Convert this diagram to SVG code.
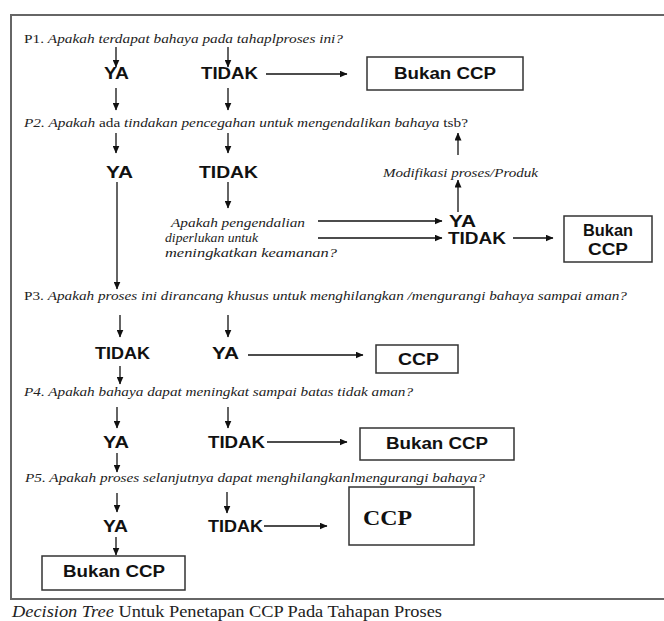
<svg xmlns="http://www.w3.org/2000/svg" width="664" height="621" viewBox="0 0 664 621">
  <defs>
    <marker id="head" markerUnits="userSpaceOnUse" markerWidth="8" markerHeight="7" refX="7.5" refY="3.5" orient="auto">
      <path d="M0,0 L8,3.5 L0,7 z" fill="#111"/>
    </marker>
    <style>
      .frame { fill: none; stroke: #666; stroke-width: 2; }
      .box { fill: #fff; stroke: #333; stroke-width: 1.5; }
      .q { font-family: "Liberation Serif", "Times New Roman", serif; font-size: 12.5px; fill: #222; }
      .it { font-style: italic; }
      .up { font-style: normal; }
      .lbl { font-family: "Liberation Sans", Arial, sans-serif; font-weight: bold; font-size: 16px; fill: #111; }
      .ccp-serif { font-family: "Liberation Serif", "Times New Roman", serif; font-weight: bold; font-size: 20px; fill: #111; }
      .cap { font-family: "Liberation Serif", "Times New Roman", serif; font-size: 16px; fill: #222; }
      .conn line { stroke: #111; stroke-width: 1.3; marker-end: url(#head); }
      .conn line.plain { marker-end: none; }
    </style>
  </defs>

  <rect width="664" height="621" fill="#fff"/>

  <!-- outer frame (open on the right) -->
  <path class="frame" d="M664 15 H11 V599 H664"/>

  <!-- question 1 -->
  <g id="q1">
    <text class="q" x="24" y="43" textLength="319" lengthAdjust="spacingAndGlyphs"><tspan class="up">P1. </tspan><tspan class="it">Apakah terdapat bahaya pada tahaplproses ini?</tspan></text>
  </g>
  <g id="q1-ya"><text class="lbl" x="104" y="79" textLength="25" lengthAdjust="spacingAndGlyphs">YA</text></g>
  <g id="q1-tidak"><text class="lbl" x="201" y="79" textLength="57" lengthAdjust="spacingAndGlyphs">TIDAK</text></g>
  <g id="q1-bukan">
    <rect class="box" x="367" y="57" width="156" height="33"/>
    <text class="lbl" x="394" y="79" textLength="102" lengthAdjust="spacingAndGlyphs">Bukan CCP</text>
  </g>

  <!-- question 2 -->
  <g id="q2">
    <text class="q" x="24" y="127" textLength="444" lengthAdjust="spacingAndGlyphs"><tspan class="it">P2. Apakah </tspan><tspan class="up">ada </tspan><tspan class="it">tindakan pencegahan untuk mengendalikan bahaya </tspan><tspan class="up">tsb?</tspan></text>
  </g>
  <g id="q2-ya"><text class="lbl" x="106" y="178" textLength="27" lengthAdjust="spacingAndGlyphs">YA</text></g>
  <g id="q2-tidak"><text class="lbl" x="199" y="178" textLength="59" lengthAdjust="spacingAndGlyphs">TIDAK</text></g>
  <g id="modifikasi">
    <text class="q it" x="383" y="177" textLength="155" lengthAdjust="spacingAndGlyphs">Modifikasi proses/Produk</text>
  </g>
  <g id="q2b">
    <text class="q it" x="171" y="227" textLength="134" lengthAdjust="spacingAndGlyphs">Apakah pengendalian</text>
    <text class="q it" x="165" y="242" textLength="93" lengthAdjust="spacingAndGlyphs">diperlukan untuk</text>
    <text class="q it" x="165" y="257" textLength="172" lengthAdjust="spacingAndGlyphs">meningkatkan keamanan?</text>
  </g>
  <g id="q2b-ya"><text class="lbl" x="449" y="227" textLength="27" lengthAdjust="spacingAndGlyphs">YA</text></g>
  <g id="q2b-tidak"><text class="lbl" x="448" y="244" textLength="58" lengthAdjust="spacingAndGlyphs">TIDAK</text></g>
  <g id="q2b-bukan">
    <rect class="box" x="564" y="216" width="88" height="46"/>
    <text class="lbl" x="608" y="236" text-anchor="middle" textLength="50" lengthAdjust="spacingAndGlyphs">Bukan</text>
    <text class="lbl" x="608" y="255" text-anchor="middle" textLength="40" lengthAdjust="spacingAndGlyphs">CCP</text>
  </g>

  <!-- question 3 -->
  <g id="q3">
    <text class="q" x="24" y="300" textLength="603" lengthAdjust="spacingAndGlyphs"><tspan class="up">P3. </tspan><tspan class="it">Apakah proses ini dirancang khusus untuk menghilangkan /mengurangi bahaya sampai aman?</tspan></text>
  </g>
  <g id="q3-tidak"><text class="lbl" x="95" y="359" textLength="55" lengthAdjust="spacingAndGlyphs">TIDAK</text></g>
  <g id="q3-ya"><text class="lbl" x="212" y="359" textLength="27" lengthAdjust="spacingAndGlyphs">YA</text></g>
  <g id="q3-ccp">
    <rect class="box" x="376" y="345" width="82" height="28"/>
    <text class="lbl" x="398" y="365" textLength="41" lengthAdjust="spacingAndGlyphs">CCP</text>
  </g>

  <!-- question 4 -->
  <g id="q4">
    <text class="q it" x="24" y="396" textLength="389" lengthAdjust="spacingAndGlyphs">P4. Apakah bahaya dapat meningkat sampai batas tidak aman?</text>
  </g>
  <g id="q4-ya"><text class="lbl" x="103" y="448" textLength="26" lengthAdjust="spacingAndGlyphs">YA</text></g>
  <g id="q4-tidak"><text class="lbl" x="208" y="448" textLength="57" lengthAdjust="spacingAndGlyphs">TIDAK</text></g>
  <g id="q4-bukan">
    <rect class="box" x="360" y="428" width="154" height="32"/>
    <text class="lbl" x="386" y="449" textLength="102" lengthAdjust="spacingAndGlyphs">Bukan CCP</text>
  </g>

  <!-- question 5 -->
  <g id="q5">
    <text class="q it" x="25" y="482" textLength="460" lengthAdjust="spacingAndGlyphs">P5. Apakah proses selanjutnya dapat menghilangkanlmengurangi bahaya?</text>
  </g>
  <g id="q5-ya"><text class="lbl" x="103" y="532" textLength="25" lengthAdjust="spacingAndGlyphs">YA</text></g>
  <g id="q5-tidak"><text class="lbl" x="208" y="532" textLength="55" lengthAdjust="spacingAndGlyphs">TIDAK</text></g>
  <g id="q5-ccp">
    <rect class="box" x="349" y="487" width="125" height="58"/>
    <text class="ccp-serif" x="363" y="525" textLength="49" lengthAdjust="spacingAndGlyphs">CCP</text>
  </g>
  <g id="q5-bukan">
    <rect class="box" x="42" y="556" width="143" height="34"/>
    <text class="lbl" x="63" y="577" textLength="102" lengthAdjust="spacingAndGlyphs">Bukan CCP</text>
  </g>

  <!-- connectors -->
  <g id="connectors" class="conn">
    <line x1="116" y1="47" x2="116" y2="67"/>
    <line x1="228" y1="47" x2="228" y2="67"/>
    <line x1="266" y1="74" x2="347" y2="74"/>
    <line x1="116" y1="88" x2="116" y2="110"/>
    <line x1="228" y1="88" x2="228" y2="110"/>

    <line x1="116" y1="133" x2="116" y2="153"/>
    <line x1="228" y1="133" x2="228" y2="153"/>
    <line x1="458" y1="155" x2="458" y2="133"/>
    <line x1="117" y1="182" x2="117" y2="289"/>
    <line x1="228" y1="182" x2="228" y2="208"/>
    <line x1="458" y1="212" x2="458" y2="180"/>
    <line x1="318" y1="221" x2="442" y2="221"/>
    <line x1="318" y1="238" x2="442" y2="238"/>
    <line x1="513" y1="238" x2="553" y2="238"/>

    <line x1="120" y1="315" x2="120" y2="337"/>
    <line x1="228" y1="315" x2="228" y2="337"/>
    <line x1="248" y1="355" x2="363" y2="355"/>
    <line x1="120" y1="366" x2="120" y2="384"/>

    <line x1="117" y1="407" x2="117" y2="428"/>
    <line x1="228" y1="407" x2="228" y2="428"/>
    <line x1="267" y1="442" x2="347" y2="442"/>
    <line x1="117" y1="453" x2="117" y2="472"/>

    <line x1="117" y1="493" x2="117" y2="512"/>
    <line x1="227" y1="492" x2="227" y2="513"/>
    <line x1="264" y1="526" x2="327" y2="526"/>
    <line x1="116" y1="537" x2="116" y2="555"/>
  </g>

  <!-- caption -->
  <text class="cap" x="12" y="617" textLength="430" lengthAdjust="spacingAndGlyphs"><tspan class="it">Decision Tree</tspan> Untuk Penetapan CCP Pada Tahapan Proses</text>
</svg>
